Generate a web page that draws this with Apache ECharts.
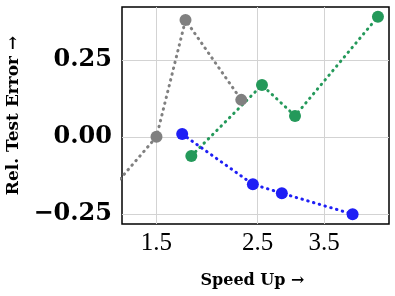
<!DOCTYPE html>
<html><head><meta charset="utf-8">
<script src="https://cdn.jsdelivr.net/npm/echarts@6/dist/echarts.min.js"></script>
<style>html,body{margin:0;padding:0;background:#fff}#c{width:395px;height:296px}</style>
</head><body><div id="c"></div>
<script>
const grayX = [1.2, 1.5, 1.737, 2.303];
const grayY = [-0.166, 0.0, 0.379, 0.120];
const greenX = [1.789, 2.557, 3.022, 4.596];
const greenY = [-0.062, 0.168, 0.068, 0.390];
const blueX = [1.708, 2.442, 2.827, 4.043];
const blueY = [0.009, -0.154, -0.183, -0.251];
const xTicks = [1.5, 2.5, 3.5];
const yTicks = [-0.25, 0.0, 0.25];

const pairs = (xs, ys) => xs.map((x, i) => [x, ys[i]]);
const dotLine = c => ({ color: c, width: 3, type: [0.5, 5.5], cap: 'round' });
function mk(xs, ys, c) {
  return { type: 'line', data: pairs(xs, ys), symbol: 'circle', symbolSize: 12,
    itemStyle: { color: c }, lineStyle: dotLine(c), clip: true, z: 3 };
}
const chart = echarts.init(document.getElementById('c'));
chart.setOption({
  animation: false,
  grid: { left: 122, right: 6, top: 7, bottom: 72, show: true, borderColor: '#000', borderWidth: 1.5,
    containLabel: false, outerBoundsMode: 'none' },
  xAxis: { type: 'log', logBase: Math.E, min: 1.26, max: 4.86,
    axisLine: { show: false }, axisTick: { show: false, customValues: xTicks },
    axisLabel: { customValues: xTicks, fontFamily: 'Liberation Serif', fontSize: 25, color: '#000', margin: 7,
      formatter: v => (+v).toFixed(1) },
    splitLine: { show: true, lineStyle: { color: '#d3d3d3', width: 1 } },
    name: 'Speed Up →', nameLocation: 'middle', nameGap: 49,
    nameTextStyle: { fontFamily: 'DejaVu Serif', fontWeight: 'bold', fontSize: 16, color: '#000', padding: [0, 6, 0, 0] } },
  yAxis: { type: 'value', min: -0.283, max: 0.4215,
    axisLine: { show: false }, axisTick: { show: false, customValues: yTicks },
    axisLabel: { customValues: yTicks, fontFamily: 'DejaVu Serif', fontWeight: 'bold', fontSize: 24, color: '#000', margin: 10,
      formatter: v => (v < 0 ? '\u2212' : '') + Math.abs(v).toFixed(2) },
    splitLine: { show: true, lineStyle: { color: '#d3d3d3', width: 1 } },
    name: 'Rel. Test Error →', nameLocation: 'middle', nameGap: 100,
    nameTextStyle: { fontFamily: 'DejaVu Serif', fontWeight: 'bold', fontSize: 17, color: '#000' } },
  series: [ mk(grayX, grayY, '#808080'), mk(greenX, greenY, '#24995a'), mk(blueX, blueY, '#1f1ff5') ]
});
</script></body></html>
